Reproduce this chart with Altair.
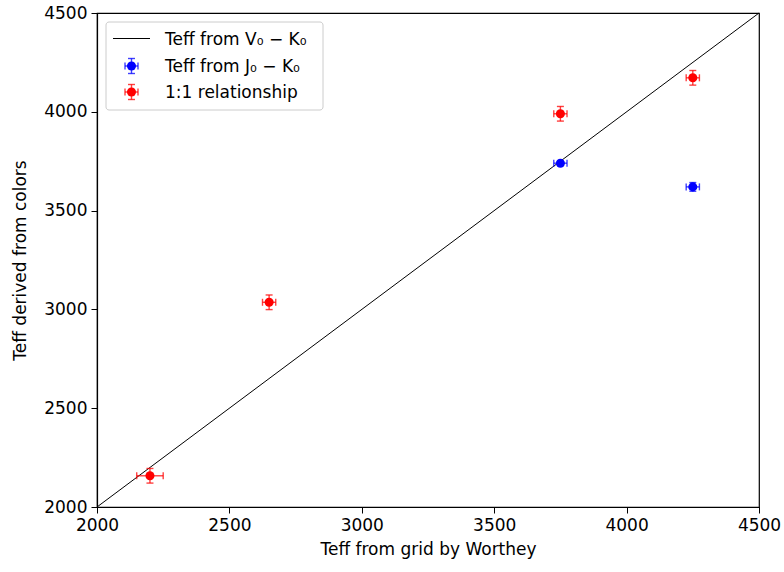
import altair as alt
import pandas as pd

# ---- data ----
series_names = ["Teff from V\u2080 \u2212 K\u2080", "Teff from J\u2080 \u2212 K\u2080", "1:1 relationship"]
series_colors = ["black", "blue", "red"]

red_x = [2200, 2650, 3750, 4250]
red_y = [2158, 3036, 3990, 4172]
red_xerr = [50, 25, 25, 25]
red_yerr = [37, 37, 37, 37]

blue_x = [3750, 4250]
blue_y = [3740, 3620]
blue_xerr = [25, 25]
blue_yerr = [8, 22]

line_x = [2000, 4500]
line_y = [2000, 4500]

ticks = [2000, 2500, 3000, 3500, 4000, 4500]

rows = []
for x, y, xe, ye in zip(blue_x, blue_y, blue_xerr, blue_yerr):
    rows.append(dict(s=series_names[1], x=x, y=y, xlo=x - xe, xhi=x + xe, ylo=y - ye, yhi=y + ye))
for x, y, xe, ye in zip(red_x, red_y, red_xerr, red_yerr):
    rows.append(dict(s=series_names[2], x=x, y=y, xlo=x - xe, xhi=x + xe, ylo=y - ye, yhi=y + ye))
df = pd.DataFrame(rows)
line_df = pd.DataFrame({"x": line_x, "y": line_y})

FONT = "DejaVu Sans"
FS = 17
PSIZE = 82
EW = 1.4
xs = alt.Scale(domain=[2000, 4500], nice=False, zero=False)
ys = alt.Scale(domain=[2000, 4500], nice=False, zero=False)
xaxis = alt.Axis(values=ticks, title="Teff from grid by Worthey", format="d", labelFlush=False)
yaxis = alt.Axis(values=ticks, title="Teff derived from colors", format="d", labelFlush=False)

col_scale = alt.Scale(domain=series_names, range=series_colors)
err_color = alt.Color("s:N", scale=col_scale, legend=None)

base = alt.Chart(df)

diag = alt.Chart(line_df).mark_line(color="black", strokeWidth=1).encode(
    x=alt.X("x:Q", scale=xs, axis=xaxis),
    y=alt.Y("y:Q", scale=ys, axis=yaxis),
)

EA = 0.75
xbar = base.mark_rule(strokeWidth=EW, opacity=EA).encode(
    x=alt.X("xlo:Q", scale=xs), x2="xhi:Q", y=alt.Y("y:Q", scale=ys), color=err_color)
ybar = base.mark_rule(strokeWidth=EW, opacity=EA).encode(
    x=alt.X("x:Q", scale=xs), y=alt.Y("ylo:Q", scale=ys), y2="yhi:Q", color=err_color)
cap_xlo = base.mark_tick(orient="vertical", size=7, thickness=EW, opacity=EA).encode(
    x=alt.X("xlo:Q", scale=xs), y=alt.Y("y:Q", scale=ys), color=err_color)
cap_xhi = base.mark_tick(orient="vertical", size=7, thickness=EW, opacity=EA).encode(
    x=alt.X("xhi:Q", scale=xs), y=alt.Y("y:Q", scale=ys), color=err_color)
cap_ylo = base.mark_tick(orient="horizontal", size=7, thickness=EW, opacity=EA).encode(
    x=alt.X("x:Q", scale=xs), y=alt.Y("ylo:Q", scale=ys), color=err_color)
cap_yhi = base.mark_tick(orient="horizontal", size=7, thickness=EW, opacity=EA).encode(
    x=alt.X("x:Q", scale=xs), y=alt.Y("yhi:Q", scale=ys), color=err_color)

pts = base.mark_point(filled=True, opacity=1, size=PSIZE).encode(
    x=alt.X("x:Q", scale=xs),
    y=alt.Y("y:Q", scale=ys),
    color=alt.Color("s:N", scale=col_scale, legend=None),
)

# ---- legend box drawn in pixel space (top-left inside the plot) ----
one = pd.DataFrame({"a": [0]})
leg_layers = [
    alt.Chart(one).mark_rect(fill="white", fillOpacity=0.85, stroke="#cccccc", strokeWidth=1,
                             cornerRadius=3).encode(
        x=alt.value(9), x2=alt.value(226), y=alt.value(9), y2=alt.value(97)),
    alt.Chart(one).mark_rule(color=series_colors[0], strokeWidth=1).encode(
        x=alt.value(16), x2=alt.value(53), y=alt.value(25.5)),
]
row_y = [25.5, 53, 79]
sym_x = 34.5
for i in (1, 2):
    yy = row_y[i]
    c = series_colors[i]
    leg_layers += [
        alt.Chart(one).mark_rule(color=c, strokeWidth=EW, opacity=EA).encode(
            x=alt.value(sym_x - 6.5), x2=alt.value(sym_x + 6.5), y=alt.value(yy)),
        alt.Chart(one).mark_rule(color=c, strokeWidth=EW, opacity=EA).encode(
            x=alt.value(sym_x), y=alt.value(yy - 7.5), y2=alt.value(yy + 7.5)),
        alt.Chart(one).mark_rule(color=c, strokeWidth=EW, opacity=EA).encode(
            x=alt.value(sym_x - 6.5), y=alt.value(yy - 3.5), y2=alt.value(yy + 3.5)),
        alt.Chart(one).mark_rule(color=c, strokeWidth=EW, opacity=EA).encode(
            x=alt.value(sym_x + 6.5), y=alt.value(yy - 3.5), y2=alt.value(yy + 3.5)),
        alt.Chart(one).mark_rule(color=c, strokeWidth=EW, opacity=EA).encode(
            x=alt.value(sym_x - 3.5), x2=alt.value(sym_x + 3.5), y=alt.value(yy - 7.5)),
        alt.Chart(one).mark_rule(color=c, strokeWidth=EW, opacity=EA).encode(
            x=alt.value(sym_x - 3.5), x2=alt.value(sym_x + 3.5), y=alt.value(yy + 7.5)),
        alt.Chart(one).mark_point(filled=True, color=c, size=PSIZE, opacity=1).encode(
            x=alt.value(sym_x), y=alt.value(yy)),
    ]
for i, name in enumerate(series_names):
    leg_layers.append(
        alt.Chart(one).mark_text(text=name, align="left", baseline="middle", font=FONT,
                                 fontSize=FS, color="black").encode(
            x=alt.value(68), y=alt.value(row_y[i] + 1))
    )

chart = alt.layer(diag, xbar, ybar, cap_xlo, cap_xhi, cap_ylo, cap_yhi, pts, *leg_layers).properties(
    width=662, height=494,
    autosize=alt.AutoSizeParams(type="none"),
    padding={"left": 97, "top": 13, "right": 25, "bottom": 65},
    background="white",
).configure_view(
    stroke="black", strokeWidth=1.2
).configure_axis(
    grid=False, domainColor="black", tickColor="black", tickSize=6, tickWidth=1,
    labelFont=FONT, labelFontSize=FS, labelColor="black", labelPadding=4,
    titleFont=FONT, titleFontSize=FS, titleFontWeight="normal", titleColor="black",
    domainWidth=1.2,
).configure_axisX(titlePadding=8).configure_axisY(titlePadding=14)

chart.save("out.html", embed_options={"renderer": "svg", "actions": False})
